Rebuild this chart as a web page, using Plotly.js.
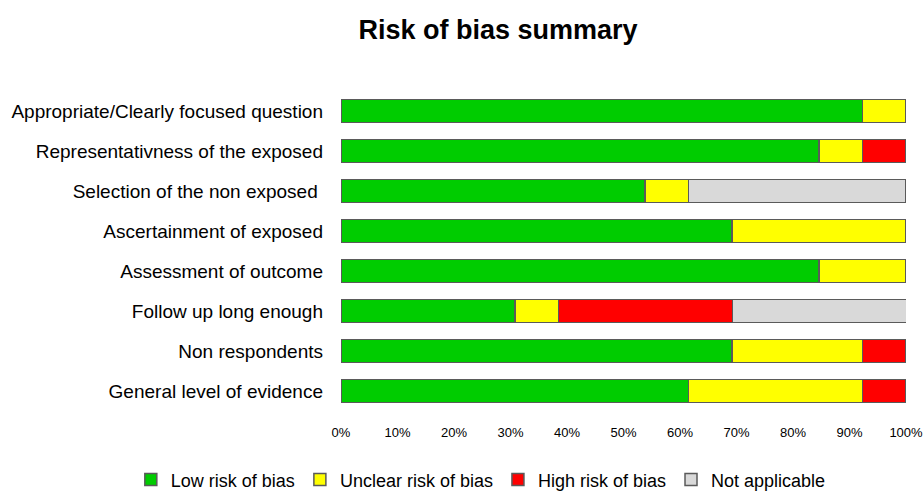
<!DOCTYPE html>
<html><head><meta charset="utf-8">
<script src="https://cdn.plot.ly/plotly-3.0.1.min.js"></script>
<style>body{margin:0;background:#fff}#chart{width:924px;height:493px}</style>
</head><body><div id="chart"></div>
<script>
const categories = [
  "Appropriate/Clearly focused question",
  "Representativness of the exposed",
  "Selection of the non exposed ",
  "Ascertainment of exposed",
  "Assessment of outcome",
  "Follow up long enough",
  "Non respondents",
  "General level of evidence"
];
const lowRisk     = [92.3, 84.6, 53.8, 69.2, 84.6, 30.8, 69.2, 61.5];
const unclearRisk = [7.7, 7.7, 7.7, 30.8, 15.4, 7.7, 23.1, 30.8];
const highRisk    = [0, 7.7, 0, 0, 0, 30.8, 7.7, 7.7];
const notApplic   = [0, 0, 38.5, 0, 0, 30.8, 0, 0];
const seriesNames = ["Low risk of bias", "Unclear risk of bias", "High risk of bias", "Not applicable"];
const seriesColors = ["#00cc00", "#ffff00", "#ff0000", "#d9d9d9"];
const tickVals = [0,10,20,30,40,50,60,70,80,90,100];
const tickText = tickVals.map(v => v + "%");

const seriesData = [lowRisk, unclearRisk, highRisk, notApplic];
const traces = seriesData.map((vals, i) => ({
  type: "bar",
  orientation: "h",
  y: categories,
  x: vals,
  name: seriesNames[i],
  width: 0.58,
  marker: { color: seriesColors[i], line: { color: "#5a5a5a", width: 1.5 } },
  hoverinfo: "x+y+name"
}));

const layout = {
  width: 924, height: 493,
  paper_bgcolor: "#fff", plot_bgcolor: "#fff",
  barmode: "stack",
  margin: { l: 341, r: 18, t: 91, b: 82, autoexpand: false },
  title: {
    text: "<b>Risk of bias summary</b>",
    x: 0.539, xanchor: "center", y: 0.94, yanchor: "middle",
    font: { family: "Liberation Sans, Arial, sans-serif", size: 27, color: "#000" }
  },
  xaxis: {
    range: [0, 100], tickvals: tickVals, ticktext: tickText,
    showgrid: false, zeroline: false, showline: false,
    ticks: "", ticklabelstandoff: 12,
    tickfont: { family: "Liberation Sans, Arial, sans-serif", size: 13, color: "#000" },
    fixedrange: true
  },
  yaxis: {
    autorange: "reversed", range: [7.5, -0.5],
    showgrid: false, zeroline: false, showline: false,
    ticks: "", ticklabelstandoff: 17,
    tickfont: { family: "Liberation Sans, Arial, sans-serif", size: 19, color: "#000" },
    fixedrange: true
  },
  legend: {
    orientation: "h", xref: "paper", yref: "paper",
    x: -0.372, xanchor: "left", y: -0.215, yanchor: "middle",
    font: { family: "Liberation Sans, Arial, sans-serif", size: 18, color: "#000" },
    itemwidth: 30, traceorder: "normal"
  },
  showlegend: true
};

Plotly.newPlot("chart", traces, layout, { displayModeBar: false, staticPlot: true });
</script>
</body></html>
